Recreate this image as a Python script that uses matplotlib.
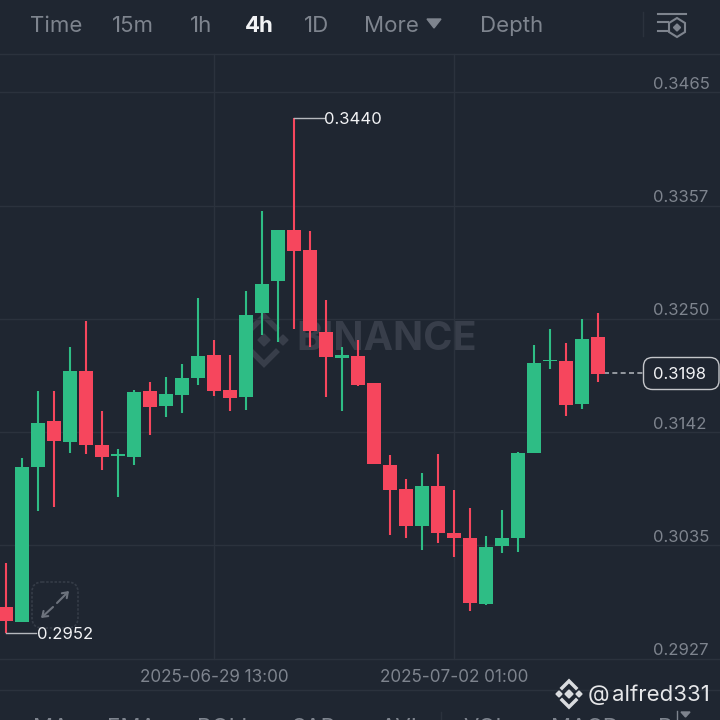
import numpy as np
import matplotlib
matplotlib.use("Agg")
import matplotlib.pyplot as plt
from matplotlib.patches import FancyBboxPatch, Polygon
from matplotlib.transforms import blended_transform_factory

plt.rcParams['font.family'] = ['Inter', 'DejaVu Sans']

BG = '#1f2631'
GRID = '#2b323d'
UP = '#2ebd85'
DOWN = '#f6465d'
MUTED = '#7e848e'
WHITE = '#f2f3f5'

# 4h candles
highs = [0.30181, 0.31177, 0.31812, 0.31812, 0.32230, 0.32477, 0.31623, 0.31262, 0.31822, 0.31898,
         0.31945, 0.32069, 0.32695, 0.32296, 0.32154, 0.32761, 0.33521, 0.33340, 0.34403, 0.33331,
         0.32676, 0.32230, 0.32296, 0.31889, 0.31205, 0.30977, 0.31034, 0.31215, 0.30873, 0.30703,
         0.30437, 0.30684, 0.31234, 0.32249, 0.32401, 0.32268, 0.32496, 0.32553]
tops = [0.29764, 0.31091, 0.31509, 0.31528, 0.32002, 0.32002, 0.31300, 0.31215, 0.31803, 0.31812,
        0.31784, 0.31936, 0.32145, 0.32154, 0.31822, 0.32534, 0.32828, 0.33340, 0.33340, 0.33151,
        0.32372, 0.32154, 0.32145, 0.31889, 0.31110, 0.30882, 0.30911, 0.30911, 0.30466, 0.30418,
        0.30333, 0.30418, 0.31224, 0.32078, 0.32107, 0.32097, 0.32306, 0.32325]
bottoms = [0.29631, 0.29621, 0.31091, 0.31338, 0.31328, 0.31300, 0.31186, 0.31196, 0.31186, 0.31661,
           0.31670, 0.31774, 0.31936, 0.31812, 0.31746, 0.31755, 0.32553, 0.32856, 0.33141, 0.32382,
           0.32135, 0.32126, 0.31869, 0.31120, 0.30873, 0.30532, 0.30532, 0.30466, 0.30418, 0.29802,
           0.29792, 0.30342, 0.30418, 0.31224, 0.32097, 0.31680, 0.31689, 0.31974]
lows = [0.29517, 0.29621, 0.30675, 0.30713, 0.31224, 0.31215, 0.31063, 0.30806, 0.31110, 0.31395,
        0.31566, 0.31604, 0.31869, 0.31765, 0.31623, 0.31632, 0.32344, 0.32277, 0.32401, 0.32230,
        0.31755, 0.31623, 0.31860, 0.31120, 0.30447, 0.30418, 0.30304, 0.30371, 0.30238, 0.29726,
        0.29783, 0.30276, 0.30285, 0.31224, 0.32021, 0.31575, 0.31642, 0.31898]
is_up = [0, 1, 1, 0, 1, 0, 0, 1, 1, 0, 1, 1, 1, 0, 0, 1, 1, 1, 0, 0,
         0, 1, 0, 0, 0, 0, 1, 0, 0, 0, 1, 1, 1, 1, 1, 0, 1, 0]

price_ticks = [0.3465, 0.3357, 0.3250, 0.3142, 0.3035, 0.2927]
date_idx = [13, 28]
date_labels = ['2025-06-29 13:00', '2025-07-02 01:00']
last_price = 0.3198
high_label = 0.3440
low_label = 0.2952

tabs = ['Time', '15m', '1h', '4h', '1D', 'More', 'Depth']
tab_x = [30, 112, 190, 245, 304, 364, 480]
indicators = ['MA', 'EMA', 'BOLL', 'SAR', 'AVL', 'VOL', 'MACD', 'R']
indicator_x = [33, 107, 197, 292, 380, 463, 551, 658]

fig = plt.figure(figsize=(7.2, 7.2), dpi=100, facecolor=BG)

# pixel layer for the app chrome, sits under the candles
ui = fig.add_axes([0, 0, 1, 1], zorder=0)
ui.set_xlim(0, 720)
ui.set_ylim(720, 0)
ui.axis('off')

ax = fig.add_axes([0, 0, 1, 1], zorder=1)
ax.patch.set_alpha(0)
ax.axis('off')
ax.set_xlim(-0.375, 44.625)
ax.set_ylim(0.28691, 0.35523)

# grid
for p in price_ticks[:-1]:
    ax.axhline(p, color=GRID, lw=1, zorder=1)
ax_x = blended_transform_factory(ax.transData, ax.transAxes)
for i in date_idx:
    ax.plot([i, i], [1 - 659 / 720, 1 - 54 / 720], color=GRID, lw=1, transform=ax_x, zorder=1)

for y in [54, 659, 690]:
    ui.plot([0, 720], [y, y], color=GRID, lw=1)

# watermark
wm = '#383e4a'
ui.text(296, 340, 'BINANCE', color=wm, fontsize=28.5, fontweight='bold', va='center', ha='left')
cx, cy = 264, 340
ui.add_patch(Polygon([(cx, cy - 6), (cx + 6, cy), (cx, cy + 6), (cx - 6, cy)], color=wm))
ui.add_patch(Polygon([(cx - 24, cy), (cx - 19, cy - 5), (cx - 14, cy), (cx - 19, cy + 5)], color=wm))
ui.add_patch(Polygon([(cx + 24, cy), (cx + 19, cy - 5), (cx + 14, cy), (cx + 19, cy + 5)], color=wm))
ui.plot([cx - 12, cx, cx + 12], [cy - 12, cy - 24, cy - 12], color=wm, lw=4, solid_joinstyle='miter')
ui.plot([cx - 12, cx, cx + 12], [cy + 12, cy + 24, cy + 12], color=wm, lw=4, solid_joinstyle='miter')

# candles
x = np.arange(len(highs))
for i in x:
    c = UP if is_up[i] else DOWN
    ax.vlines(i, lows[i], highs[i], color=c, lw=1.5, zorder=3)
    ax.bar(i, tops[i] - bottoms[i], bottom=bottoms[i], width=0.875, color=c, zorder=4, linewidth=0)

# price labels
for p in price_ticks:
    ax.annotate(f'{p:.4f}', xy=(1, p), xycoords=ax.get_yaxis_transform(), xytext=(-67, 8),
                textcoords='offset pixels', color=MUTED, fontsize=12, va='center', ha='left')

for i, lab in zip(date_idx, date_labels):
    ax.text(i, 1 - 677 / 720, lab, transform=ax_x, color=MUTED, fontsize=12.3, ha='center', va='center')

# high / low callouts
ax.plot([18, 19.9], [high_label, high_label], color='#b5b8bd', lw=1, zorder=5)
ax.annotate(f'{high_label:.4f}', xy=(18, high_label), xytext=(30, -1), textcoords='offset pixels',
            color=WHITE, fontsize=12, va='center', ha='left', zorder=6)
ax.plot([0, 1.9], [low_label, low_label], color='#b5b8bd', lw=1, zorder=5)
ax.annotate(f'{low_label:.4f}', xy=(0, low_label), xytext=(31, -2), textcoords='offset pixels',
            color=WHITE, fontsize=12, va='center', ha='left', zorder=6)

# last price box
ax.plot([37.4, 39.8], [last_price, last_price], color='#a9adb3', lw=1.2, ls=(0, (3, 2)), zorder=3)
ui.add_patch(FancyBboxPatch((643.5, 357.5), 75.5, 32, boxstyle='round,pad=0,rounding_size=9',
                            fc=BG, ec='#c4c6ca', lw=1, zorder=5))
ax.annotate(f'{last_price:.4f}', xy=(1, last_price), xycoords=ax.get_yaxis_transform(), xytext=(-67, -1),
            textcoords='offset pixels', color=WHITE, fontsize=12, va='center', ha='left', zorder=7)

# top tabs
for t, tx in zip(tabs, tab_x):
    active = t == '4h'
    ui.text(tx, 26, t, color=WHITE if active else MUTED, fontsize=16, va='center', ha='left',
            fontweight='bold' if active else 'normal')
ui.add_patch(Polygon([(427, 19), (441, 19), (434, 28)], color=MUTED))
ui.plot([643, 643], [12, 36], color=GRID, lw=1)
ui.plot([658, 686], [13.5, 13.5], color=MUTED, lw=1.5)
ui.plot([658, 668], [22, 22], color=MUTED, lw=1.5)
ui.plot([658, 668], [31, 31], color=MUTED, lw=1.5)
ui.add_patch(Polygon([(677, 18), (685, 23), (685, 32), (677, 37), (669, 32), (669, 23)], fc='none', ec=MUTED, lw=1.5))
ui.add_patch(Polygon([(677, 24), (680.5, 27.5), (677, 31), (673.5, 27.5)], color=MUTED))

# expand button
ui.add_patch(FancyBboxPatch((32, 582), 46, 46, boxstyle='round,pad=0,rounding_size=10',
                            fc=BG, ec='#353c47', lw=1.2, ls=(0, (1.5, 1)), zorder=5))
arrow_style = dict(arrowstyle='->,head_length=0.35,head_width=0.25', color='#6d737d', lw=1.5, shrinkA=0, shrinkB=0)
ui.annotate('', xy=(69, 591), xytext=(57, 603), arrowprops=arrow_style, zorder=6)
ui.annotate('', xy=(41, 618), xytext=(53, 607), arrowprops=arrow_style, zorder=6)

# indicator row, cut off by the image edge
for t, tx in zip(indicators, indicator_x):
    ui.text(tx, 728, t, color=MUTED, fontsize=16, va='center', ha='left', clip_on=True)
ui.plot([441, 441], [712, 720], color=GRID, lw=1)
ui.plot([677, 677], [711, 720], color=MUTED, lw=1)
ui.add_patch(Polygon([(681, 712), (690, 712), (685.5, 717)], color=MUTED))

# user tag
lx, ly = 569, 694
tag = '#d9dbde'
ui.add_patch(Polygon([(lx, ly - 4), (lx + 4, ly), (lx, ly + 4), (lx - 4, ly)], color=tag, zorder=8))
ui.add_patch(Polygon([(lx - 13, ly), (lx - 10, ly - 3), (lx - 7, ly), (lx - 10, ly + 3)], color=tag, zorder=8))
ui.add_patch(Polygon([(lx + 13, ly), (lx + 10, ly - 3), (lx + 7, ly), (lx + 10, ly + 3)], color=tag, zorder=8))
ui.plot([lx - 7, lx, lx + 7], [ly - 6, ly - 13, ly - 6], color=tag, lw=2.5, solid_joinstyle='miter', zorder=8)
ui.plot([lx - 7, lx, lx + 7], [ly + 6, ly + 13, ly + 6], color=tag, lw=2.5, solid_joinstyle='miter', zorder=8)
ui.text(588, 695, '@', color='#e6e7e9', fontsize=16, va='center', ha='left', zorder=8)
ui.text(612, 695, 'alfred331', color='#e6e7e9', fontsize=16, va='center', ha='left', zorder=8)

fig.savefig('out.png', dpi=100, facecolor=BG)
